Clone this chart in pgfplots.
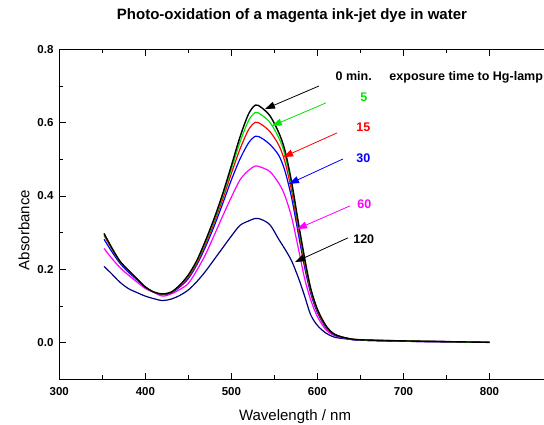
\documentclass[border=0pt]{standalone}
\usepackage{fontspec}
\setmainfont{Liberation Sans}
\usepackage{pgfplots}
\pgfplotsset{compat=1.18}
\usetikzlibrary{arrows.meta}
\definecolor{dyegreen}{RGB}{0,230,0}
\definecolor{dyered}{RGB}{255,0,0}
\definecolor{dyeblue}{RGB}{0,0,255}
\definecolor{dyemag}{RGB}{255,0,255}
\definecolor{dyenavy}{RGB}{0,0,128}

\pgfplotstableread{
x     b     g     r     bl    m     n
352  .298  .295  .292  .282  .257  .208
360  .263  .262  .260  .252  .233  .190
370  .224  .223  .222  .218  .206  .166
380  .198  .197  .197  .193  .185  .148
390  .175  .175  .174  .172  .166  .137
400  .152  .152  .152  .151  .148  .127
410  .138  .138  .138  .138  .137  .120
420  .133  .133  .132  .131  .127  .115
430  .138  .138  .137  .136  .133  .119
440  .157  .156  .154  .152  .145  .129
450  .185  .183  .179  .175  .162  .144
460  .225  .222  .218  .213  .198  .167
470  .279  .275  .270  .262  .241  .195
480  .339  .334  .328  .318  .293  .227
490  .407  .401  .392  .380  .346  .259
500  .483  .474  .462  .444  .397  .291
510  .561  .547  .528  .501  .444  .320
520  .624  .606  .581  .545  .470  .332
528  .648  .628  .601  .563  .482  .339
535  .641  .621  .595  .558  .478  .336
545  .618  .600  .575  .540  .466  .321
555  .573  .559  .539  .511  .435  .282
562  .526  .514  .495  .470  .402  .256
570  .438  .428  .414  .395  .342  .223
578  .325  .318  .308  .294  .255  .176
585  .232  .226  .218  .207  .176  .128
592  .150  .147  .142  .136  .118  .077
600  .091  .089  .086  .082  .071  .047
610  .046  .045  .043  .041  .035  .026
620  .023  .023  .022  .021  .019  .015
635  .012  .012  .012  .011  .011  .010
650  .008  .008  .008  .007  .007  .007
700  .005  .005  .005  .004  .004  .004
750  .003  .003  .003  .003  .003  .002
800  .001  .001  .001  .001  .001  .001
}\spectra

\begin{document}
\begin{tikzpicture}
\begin{axis}[
  name=ax,
  scale only axis,
  width=499.1pt, height=330.1pt,
  xmin=300, xmax=880,
  ymin=-0.1, ymax=0.8,
  xtick={300,400,...,800},
  ytick={0,0.2,...,0.8},
  minor x tick num=1,
  minor y tick num=1,
  major tick length=6.5pt,
  minor tick length=4pt,
  tick style={black, line width=0.9pt},
  axis line style={line width=1.1pt},
  /pgf/number format/assume math mode=true,
  tick label style={font=\bfseries\fontsize{11.5}{13}\selectfont},
  xticklabel style={yshift=-4.5pt},
  yticklabel style={xshift=-2.3pt, /pgf/number format/.cd, fixed, fixed zerofill, precision=1},
  xlabel={Wavelength / nm},
  ylabel={Absorbance},
  label style={font=\fontsize{15}{17}\selectfont},
  xlabel style={at={(axis description cs:0.4723,-0.1251)}, anchor=base},
  ylabel style={at={(axis description cs:-0.0601,0.4526)}, anchor=base, rotate=0},
  title={Photo-oxidation of a magenta ink-jet dye in water},
  title style={font=\bfseries\fontsize{15}{17}\selectfont,
               at={(axis description cs:0.4662,1.0706)}, anchor=base},
  clip mode=individual,
  every axis plot/.append style={smooth, line width=1.2pt},
]
  \addplot[dyenavy]  table[x=x, y=n]  {\spectra};
  \addplot[dyemag]   table[x=x, y=m]  {\spectra};
  \addplot[dyeblue]  table[x=x, y=bl] {\spectra};
  \addplot[dyered]   table[x=x, y=r]  {\spectra};
  \addplot[dyegreen] table[x=x, y=g]  {\spectra};
  \addplot[black, line width=1.4pt] table[x=x, y=b] {\spectra};

  % labels and arrows
  \begin{scope}[font=\bfseries\fontsize{12.5}{14}\selectfont]
    \node[anchor=base west] at (axis cs:617,0.7145) {0 min.};
    \node[anchor=base west] at (axis cs:679.6,0.7145) {exposure time to Hg-lamp};
    \node[anchor=base, text=dyegreen] at (axis cs:654,0.657) {5};
    \node[anchor=base, text=dyered]   at (axis cs:653.3,0.577) {15};
    \node[anchor=base, text=dyeblue]  at (axis cs:653.3,0.491) {30};
    \node[anchor=base, text=dyemag]   at (axis cs:654.4,0.3646) {60};
    \node[anchor=base]                at (axis cs:653.8,0.271) {120};
  \end{scope}
  \begin{scope}[line width=0.8pt, -{Triangle[length=10pt,width=7pt]}]
    \draw[black]    (axis cs:601.8,0.700) -- (axis cs:539,0.637);
    \draw[dyegreen] (axis cs:610,0.654)   -- (axis cs:547,0.591);
    \draw[dyered]   (axis cs:622.7,0.572) -- (axis cs:560,0.506);
    \draw[dyeblue]  (axis cs:629.7,0.501) -- (axis cs:566.9,0.433);
    \draw[dyemag]   (axis cs:637.8,0.373) -- (axis cs:576.2,0.310);
    \draw[black]    (axis cs:635.5,0.286) -- (axis cs:573.9,0.220);
  \end{scope}
\end{axis}
\pgfresetboundingbox
\path[use as bounding box] ([shift={(-59.3pt,-44.6pt)}]ax.south west) rectangle ++(544pt,424pt);
\end{tikzpicture}
\end{document}
